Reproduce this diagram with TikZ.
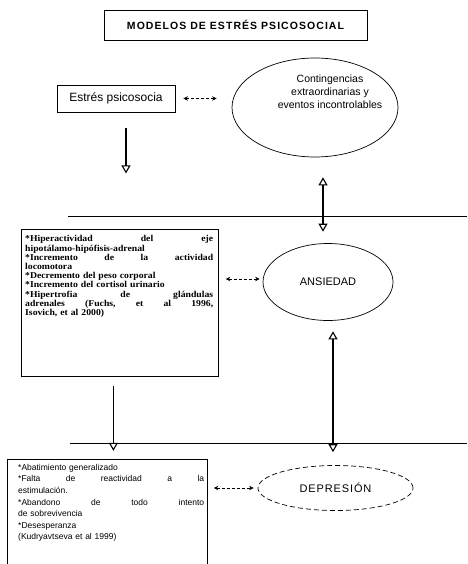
\documentclass[tikz,border=0pt]{standalone}
\usepackage{fontspec}
\setmainfont{Liberation Sans}
\newfontfamily\notefont[FakeStretch=1.08]{Liberation Serif}
\usetikzlibrary{arrows.meta,shapes.geometric,calc}

% a justified line of the given width; words are separated by \hfill
\newcommand\spreadrow[2]{\leavevmode\hbox to #1{#2}}

\tikzset{
  hollow/.tip={Triangle[open,length=8pt,width=9pt,line width=1.1pt]},
  dsh/.tip={Stealth[length=4.5pt,width=4.5pt]},
}

\begin{document}
\begin{tikzpicture}[x=1pt,y=-1pt,
  frame/.style={draw,line width=0.8pt,inner sep=0pt},
  bubble/.style={draw,ellipse,line width=0.7pt,inner sep=0pt},
  txt/.style={inner sep=0pt,align=center},
  bigarrow/.style={line width=1.6pt,-hollow},
  twoway/.style={line width=1.6pt,hollow-hollow},
  linkarrow/.style={line width=0.6pt,dash pattern=on 3pt off 2pt,dsh-dsh},
  divider/.style={line width=0.6pt},
]
\useasboundingbox (0,0) rectangle (467,564);
\clip (0,0) rectangle (467,564);

% heading
\node[frame,minimum width=263pt,minimum height=30pt] (title) at (235.5,25)
  {\bfseries\fontsize{10.5}{12}\selectfont\addfontfeatures{LetterSpace=10}MODELOS DE ESTRÉS PSICOSOCIAL};

% stressor and external events
\node[frame,minimum width=118pt,minimum height=27pt,font=\fontsize{12}{14}\selectfont] (estres) at (116,98.5) {Estrés psicosocia};
\node[bubble,minimum width=166pt,minimum height=99pt] (cont) at (315,107.5) {};
\node[txt,font=\fontsize{10.5}{13}\selectfont] (conttxt) at (330,92) {Contingencias\\extraordinarias y\\eventos incontrolables};

% anxiety level
\node[bubble,minimum width=130pt,minimum height=77pt,font=\fontsize{11}{13}\selectfont] (ans) at (328,282) {ANSIEDAD};
\node[frame,anchor=north west,minimum width=197pt,minimum height=147pt] (fisio) at (21,229) {};
\node[anchor=north west,inner sep=0pt,text width=188pt,align=left,
      font=\notefont\bfseries\fontsize{9}{9.2}\selectfont] (fisiotxt) at (25,235.5) {%
\spreadrow{188pt}{*Hiperactividad\hfill del\hfill eje}\\
hipotálamo-hipófisis-adrenal\\
\spreadrow{188pt}{*Incremento\hfill de\hfill la\hfill actividad}\\
locomotora\\
{*}Decremento del peso corporal\\
{*}Incremento del cortisol urinario\\
\spreadrow{188pt}{*Hipertrofia\hfill de\hfill glándulas}\\
\spreadrow{188pt}{adrenales\hfill (Fuchs,\hfill et\hfill al\hfill 1996,}\\
Isovich, et al 2000)};

% depression level
\node[bubble,dash pattern=on 5pt off 3pt,minimum width=155pt,minimum height=45pt,
      font=\fontsize{11}{13}\selectfont\addfontfeatures{LetterSpace=8}] (dep) at (335.5,488) {DEPRESIÓN};
\node[frame,anchor=north west,minimum width=200pt,minimum height=130pt] (conducta) at (7,459) {};
\node[anchor=north west,inner sep=0pt,text width=186pt,align=left,
      font=\fontsize{8.5}{11.6}\selectfont] (conductatxt) at (18,464) {%
*Abatimiento generalizado\\
\spreadrow{186pt}{*Falta\hfill de\hfill reactividad\hfill a\hfill la}\\
estimulación.\\
\spreadrow{186pt}{*Abandono\hfill de\hfill todo\hfill intento}\\
de sobrevivencia\\
{*}Desesperanza\\
(Kudryavtseva et al 1999)};

% level dividers
\coordinate (d1a) at (68,216);  \coordinate (d1b) at (467,216);
\coordinate (d2a) at (70,443);  \coordinate (d2b) at (467,443);
\draw[divider] (d1a) -- (d1b);
\draw[divider] (d2a) -- (d2b);

% vertical arrows
\coordinate (e1) at ($(estres.south)+(10,61)$);
\draw[bigarrow] ($(estres.south)+(10,16)$) -- (e1);
\draw[twoway] ($(cont.south)+(8,20)$) -- ($(ans.north)+(-5,-11.5)$);
\coordinate (e3) at ($(fisio.south)+(-6.5,74)$);
\draw[bigarrow] ($(fisio.south)+(-6.5,9)$) -- (e3);
\draw[twoway] ($(ans.south)+(5,10.5)$) -- ($(dep.north)+(-2.5,-13)$);

% dashed links
\draw[linkarrow] ($(estres.east)+(8,0)$) -- ($(estres.east -| cont.west)+(-15,0)$);
\draw[linkarrow] ($(ans.west -| fisio.east)+(7,-3)$) -- ($(ans.west)+(-3,-3)$);
\draw[linkarrow] ($(dep.west -| conducta.east)+(6,0)$) -- ($(dep.west)+(-4,0)$);
\end{tikzpicture}
\end{document}
